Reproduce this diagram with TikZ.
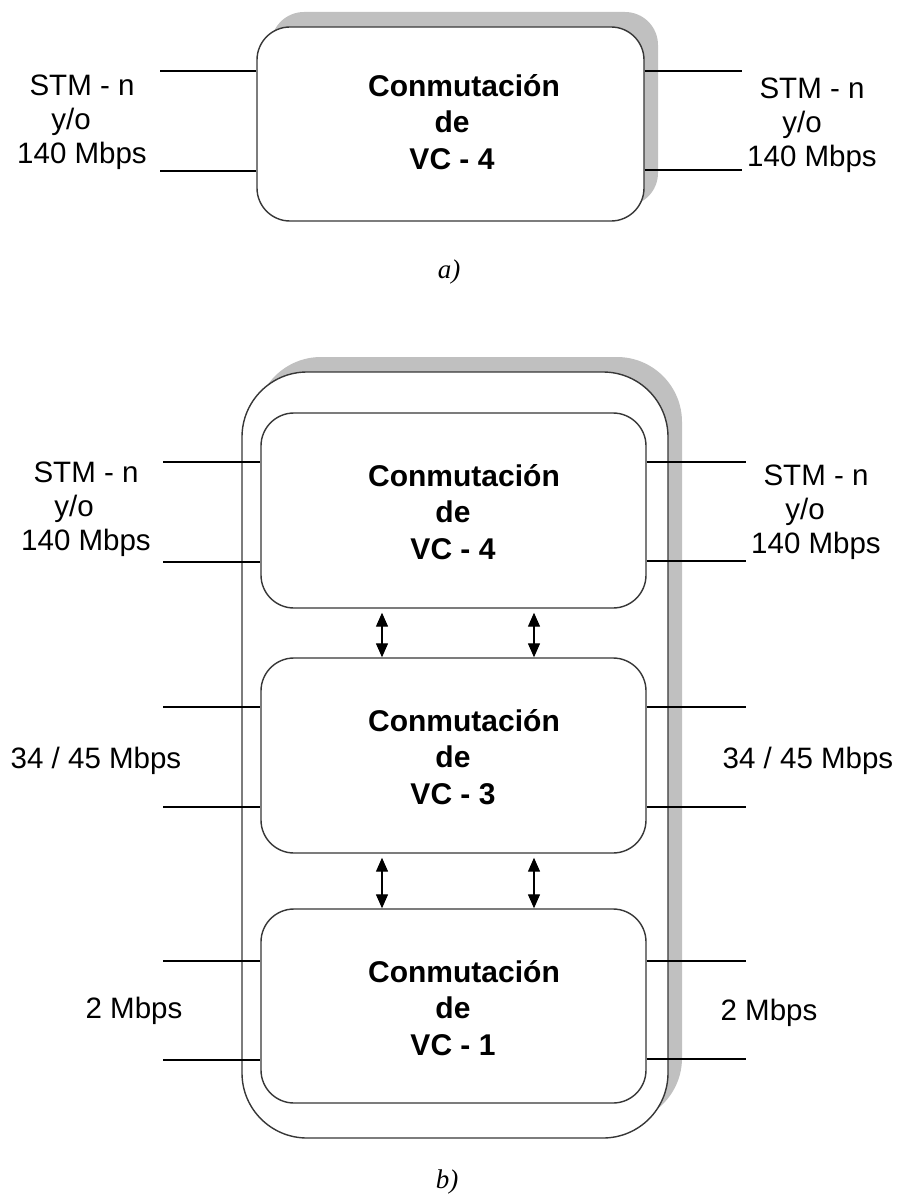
\documentclass[tikz,border=0pt]{standalone}
\usepackage{fontspec}
\setmainfont{Liberation Serif}
\setsansfont{Liberation Sans}
\usetikzlibrary{shadows,arrows.meta}
\definecolor{shadowgray}{RGB}{192,192,192}
\definecolor{edgegray}{RGB}{55,55,55}
\tikzset{
  unit/.style={draw=edgegray, line width=1.4pt, fill=white, rounded corners=33pt, inner sep=0pt},
  shadowed/.style={drop shadow={shadow xshift=14pt, shadow yshift=15pt, fill=shadowgray, opacity=1}},
  % multi-line nodes: the base anchor sits on the baseline of the last line
  title/.style={font=\fontsize{30}{36.5}\selectfont\sffamily\bfseries, align=center, anchor=base, inner sep=0pt},
  rate/.style={font=\fontsize{29.5}{34}\selectfont\sffamily, align=center, anchor=base, inner sep=0pt},
  wire/.style={line width=1.3pt, black},
  link/.style={line width=1.3pt, {Triangle[length=14pt,width=12pt]}-{Triangle[length=14pt,width=12pt]}},
  caption/.style={font=\fontsize{27}{30}\selectfont\itshape, anchor=base, inner sep=0pt},
}
% invisible spacer used to push a centred line sideways
\newcommand{\padw}[1]{\rule{#1}{0pt}}
\begin{document}
\begin{tikzpicture}[x=1pt,y=-1pt]
\useasboundingbox (0,0) rectangle (900,1196);

% ---------- a) single VC-4 switch ----------
\node[unit, shadowed, minimum width=387pt, minimum height=194pt] (A) at (450.5,124) {};
\node[title] (Atxt) at (452,169) {\padw{24pt}Conmutación\\de\\VC - 4};

\coordinate (aL1) at (160,71);  \coordinate (aL2) at (160,171);
\coordinate (aR1) at (742,71);  \coordinate (aR2) at (742,170);
\draw[wire] (aL1) -- (aL1 -| A.west);
\draw[wire] (aL2) -- (aL2 -| A.west);
\draw[wire] (aR1 -| A.east) -- (aR1);
\draw[wire] (aR2 -| A.east) -- (aR2);

\node[rate] (aLtxt) at (82,164)  {STM - n\\y/o\padw{22pt}\\140 Mbps};
\node[rate] (aRtxt) at (812,166) {STM - n\\y/o\padw{20pt}\\140 Mbps};

\node[caption] (capA) at (449,278) {a)};

% ---------- b) hierarchical VC-4 / VC-3 / VC-1 switch ----------
\node[unit, shadowed, rounded corners=65pt, minimum width=426pt, minimum height=766pt] (B) at (455,755) {};

\node[unit, minimum width=385pt, minimum height=195pt] (B1) at (453.5,510.5) {};
\node[unit, minimum width=385pt, minimum height=195pt] (B2) at (453.5,755.5) {};
\node[unit, minimum width=385pt, minimum height=194pt] (B3) at (453.5,1006) {};

\node[title] (B1txt) at (453,559)  {\padw{22pt}Conmutación\\de\\VC - 4};
\node[title] (B2txt) at (453,804)  {\padw{22pt}Conmutación\\de\\VC - 3};
\node[title] (B3txt) at (453,1055) {\padw{22pt}Conmutación\\de\\VC - 1};

% side tributaries
\coordinate (bL1) at (163,462);  \coordinate (bL2) at (163,562);
\coordinate (bR1) at (746,462);  \coordinate (bR2) at (746,561);
\coordinate (cL1) at (163,707);  \coordinate (cL2) at (163,807);
\coordinate (cR1) at (746,707);  \coordinate (cR2) at (746,807);
\coordinate (dL1) at (163,961);  \coordinate (dL2) at (163,1060);
\coordinate (dR1) at (746,961);  \coordinate (dR2) at (746,1059);

\draw[wire] (bL1) -- (bL1 -| B1.west);
\draw[wire] (bL2) -- (bL2 -| B1.west);
\draw[wire] (bR1 -| B1.east) -- (bR1);
\draw[wire] (bR2 -| B1.east) -- (bR2);
\draw[wire] (cL1) -- (cL1 -| B2.west);
\draw[wire] (cL2) -- (cL2 -| B2.west);
\draw[wire] (cR1 -| B2.east) -- (cR1);
\draw[wire] (cR2 -| B2.east) -- (cR2);
\draw[wire] (dL1) -- (dL1 -| B3.west);
\draw[wire] (dL2) -- (dL2 -| B3.west);
\draw[wire] (dR1 -| B3.east) -- (dR1);
\draw[wire] (dR2 -| B3.east) -- (dR2);

% links between switching levels
\draw[link] ([xshift=-71.5pt,yshift=-4pt]B1.south) -- ([xshift=-71.5pt]B2.north);
\draw[link] ([xshift=80.5pt,yshift=-4pt]B1.south) -- ([xshift=80.5pt]B2.north);
\draw[link] ([xshift=-71.5pt,yshift=-4pt]B2.south) -- ([xshift=-71.5pt]B3.north);
\draw[link] ([xshift=80.5pt,yshift=-4pt]B2.south) -- ([xshift=80.5pt]B3.north);

\node[rate] (bLtxt) at (86,550)  {STM - n\\y/o\padw{24pt}\\140 Mbps};
\node[rate] (bRtxt) at (816,553) {STM - n\\y/o\padw{22pt}\\140 Mbps};
\node[rate] (cLtxt) at (96,768)  {34 / 45 Mbps};
\node[rate] (cRtxt) at (808,768) {34 / 45 Mbps};
\node[rate] (dLtxt) at (134,1018) {2 Mbps};
\node[rate] (dRtxt) at (769,1020) {2 Mbps};

\node[caption] (capB) at (447,1188) {b)};
\end{tikzpicture}
\end{document}
